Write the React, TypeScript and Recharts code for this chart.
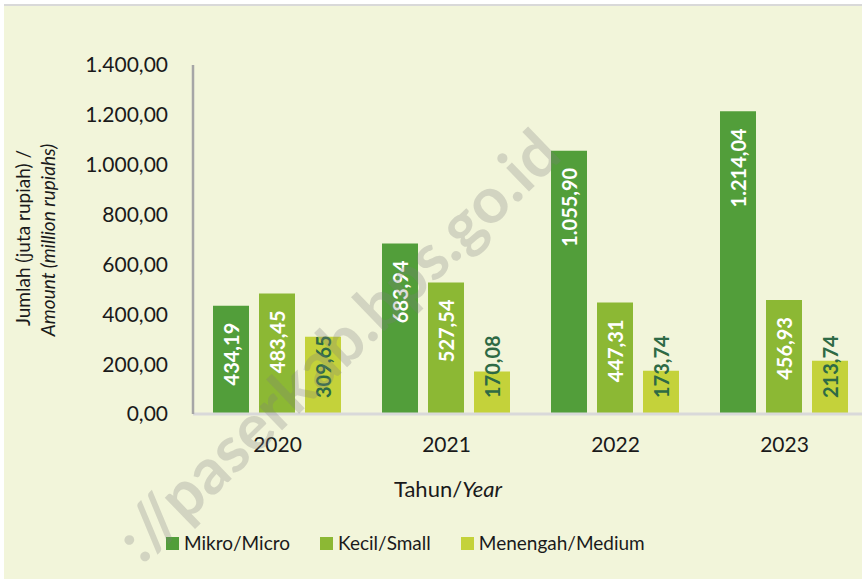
import React from 'react';
import { BarChart, Bar, XAxis, YAxis, LabelList } from 'recharts';

const years = ['2020', '2021', '2022', '2023'];
const mikro = [434.19, 683.94, 1055.9, 1214.04];
const kecil = [483.45, 527.54, 447.31, 456.93];
const menengah = [309.65, 170.08, 173.74, 213.74];
const yTicks = [0, 200, 400, 600, 800, 1000, 1200, 1400];
const seriesNames = ['Mikro/Micro', 'Kecil/Small', 'Menengah/Medium'];
const seriesColors = ['#529E3A', '#8CB834', '#C4D23A'];
const labelColors = ['#FFFFFF', '#FFFFFF', '#2E6A45'];

const data = years.map((y, i) => ({
  year: y,
  mikro: mikro[i],
  kecil: kecil[i],
  menengah: menengah[i],
}));

const FONT = 'Lato, "Open Sans", sans-serif';

function fmt(v: number): string {
  const fixed = v.toFixed(2);
  const [intPart, dec] = fixed.split('.');
  const withDots = intPart.replace(/\B(?=(\d{3})+(?!\d))/g, '.');
  return withDots + ',' + dec;
}

function textLen(s: string, size: number): number {
  let w = 0;
  for (const ch of s) {
    if (ch === '.' || ch === ',') w += 0.27 * size;
    else w += 0.58 * size;
  }
  return w;
}

const makeLabel = (color: string) => (props: any) => {
  const { x, y, width, height, value } = props;
  const xs = Number(x), ys = Number(y), ws = Number(width), hs = Number(height);
  const s = fmt(Number(value));
  const size = 20;
  const len = textLen(s, size);
  const cx = xs + ws / 2;
  const bottom = ys + hs;
  let ty: number;
  let anchor: 'start' | 'end';
  if (len + 33 <= hs) {
    ty = ys + 17;
    anchor = 'end';
  } else {
    ty = bottom - 16;
    anchor = 'start';
  }
  return (
    <text
      x={cx}
      y={ty}
      transform={`rotate(-90 ${cx} ${ty})`}
      textAnchor={anchor}
      dominantBaseline="central"
      fill={color}
      fontSize={size}
      fontWeight={700}
      fontFamily={FONT}
    >
      {s}
    </text>
  );
};

export default function App() {
  return (
    <div style={{ position: 'absolute', left: 0, top: 0, width: 862, height: 579, overflow: 'hidden', background: '#FFFFFF' }}>
      <div style={{ position: 'absolute', left: 4, top: 4, right: 0, bottom: 0, background: '#F2F5DA', borderTop: '2px solid #D9D9D9' }} />
      <div style={{ position: 'absolute', left: 0, top: 0 }}>
        <BarChart
          width={900}
          height={579}
          data={data}
          margin={{ top: 65, right: 31, left: 0, bottom: 135 }}
          barCategoryGap={20}
          barGap={10}
          style={{ fontFamily: FONT }}
        >
          <XAxis
            dataKey="year"
            axisLine={{ stroke: '#D9D9D9', strokeWidth: 3 }}
            tickLine={false}
            tickSize={0}
            tickMargin={23}
            height={30}
            tick={{ fill: '#1A1A1A', fontSize: 21, fontFamily: FONT }}
          />
          <YAxis
            width={193}
            domain={[0, 1400]}
            ticks={yTicks}
            interval={0}
            tickFormatter={(v: number) => fmt(v)}
            axisLine={{ stroke: '#A6A6A6', strokeWidth: 2.5 }}
            tickLine={false}
            tickSize={0}
            tickMargin={25}
            tick={{ fill: '#1A1A1A', fontSize: 21, fontFamily: FONT }}
          />
          <Bar dataKey="mikro" name={seriesNames[0]} fill={seriesColors[0]} isAnimationActive={false}>
            <LabelList dataKey="mikro" content={makeLabel(labelColors[0])} />
          </Bar>
          <Bar dataKey="kecil" name={seriesNames[1]} fill={seriesColors[1]} isAnimationActive={false}>
            <LabelList dataKey="kecil" content={makeLabel(labelColors[1])} />
          </Bar>
          <Bar dataKey="menengah" name={seriesNames[2]} fill={seriesColors[2]} isAnimationActive={false}>
            <LabelList dataKey="menengah" content={makeLabel(labelColors[2])} />
          </Bar>
        </BarChart>
      </div>
      <div
        style={{
          position: 'absolute',
          left: 166,
          top: 531,
          display: 'flex',
          alignItems: 'center',
          fontFamily: FONT,
          fontSize: 19,
          lineHeight: '24px',
          color: '#1A1A1A',
          whiteSpace: 'nowrap',
        }}
      >
        {seriesNames.map((n, i) => (
          <div key={n} style={{ display: 'flex', alignItems: 'center', marginRight: 30 }}>
            <div style={{ width: 13, height: 13, background: seriesColors[i], marginRight: 5 }} />
            <span>{n}</span>
          </div>
        ))}
      </div>
      <svg width={862} height={579} style={{ position: 'absolute', left: 0, top: 0, pointerEvents: 'none' }}>
        <g transform="rotate(-90 30 238)">
          <text x={30} y={238} textAnchor="middle" fontFamily={FONT} fontSize={19} fill="#1A1A1A">
            Jumlah (juta rupiah) /
          </text>
        </g>
        <g transform="rotate(-90 55 240)">
          <text x={55} y={240} textAnchor="middle" fontFamily={FONT} fontSize={19} fontStyle="italic" fill="#1A1A1A">
            Amount (million rupiahs)
          </text>
        </g>
        <text x={448} y={497} textAnchor="middle" fontFamily={FONT} fontSize={22} fill="#1A1A1A">
          Tahun/<tspan fontStyle="italic">Year</tspan>
        </text>
        <text
          x={336}
          y={344}
          transform="rotate(-44 336 344)"
          textAnchor="middle"
          dominantBaseline="central"
          fontFamily={FONT}
          fontSize={64}
          fontWeight={700}
          fill="#7F7F7F"
          fillOpacity={0.27}
        >
          ://paserkab.bps.go.id
        </text>
      </svg>
    </div>
  );
}
